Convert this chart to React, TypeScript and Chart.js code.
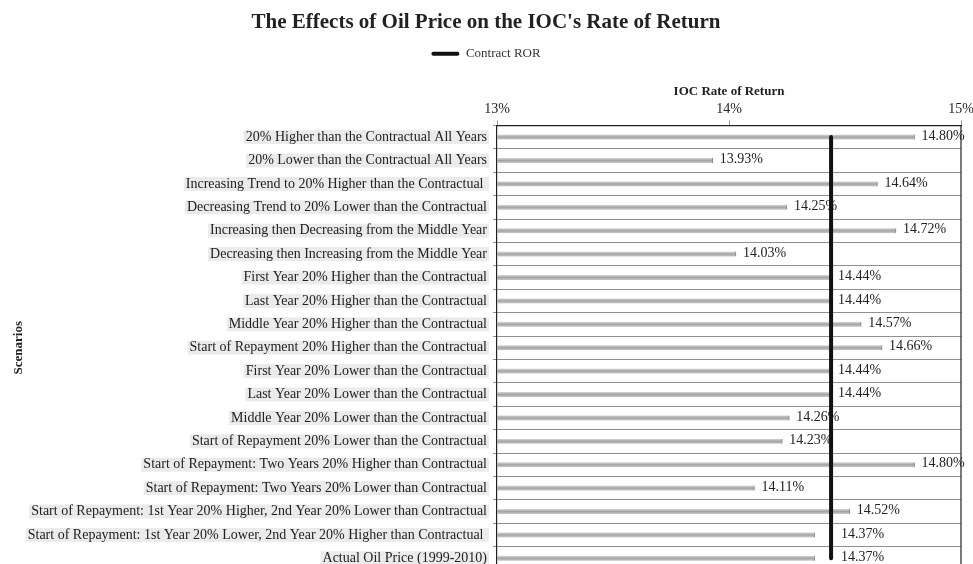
import React, { useEffect, useRef } from 'react';
import { Chart, registerables } from 'chart.js';

Chart.register(...registerables);

const scenarios: string[] = [
  '20% Higher than the Contractual All Years',
  '20% Lower than the Contractual All Years',
  'Increasing Trend to 20% Higher than the Contractual ',
  'Decreasing Trend to 20% Lower than the Contractual',
  'Increasing then Decreasing from the Middle Year',
  'Decreasing then Increasing from the Middle Year',
  'First Year 20% Higher than the Contractual',
  'Last Year 20% Higher than the Contractual',
  'Middle Year 20% Higher than the Contractual',
  'Start of Repayment 20% Higher than the Contractual',
  'First Year 20% Lower than the Contractual',
  'Last Year 20% Lower than the Contractual',
  'Middle Year 20% Lower than the Contractual',
  'Start of Repayment 20% Lower than the Contractual',
  'Start of Repayment: Two Years 20% Higher than Contractual',
  'Start of Repayment: Two Years 20% Lower than Contractual',
  'Start of Repayment: 1st Year 20% Higher, 2nd Year 20% Lower than Contractual',
  'Start of Repayment: 1st Year 20% Lower, 2nd Year 20% Higher than Contractual ',
  'Actual Oil Price (1999-2010)',
];

const iocRateOfReturn: number[] = [
  14.8, 13.93, 14.64, 14.25, 14.72, 14.03, 14.44, 14.44, 14.57, 14.66,
  14.44, 14.44, 14.26, 14.23, 14.8, 14.11, 14.52, 14.37, 14.37,
];

const contractROR = 14.44;

const xTicks: number[] = [13, 14, 15];
const xTickLabels: string[] = ['13%', '14%', '15%'];

const SERIF = "'Liberation Serif', 'Times New Roman', serif";

export default function App() {
  const canvasRef = useRef<HTMLCanvasElement | null>(null);

  useEffect(() => {
    const canvas = canvasRef.current;
    if (!canvas) return;

    const dataLabels = {
      id: 'dataLabels',
      afterDatasetDraw(chart: any, args: any) {
        if (args.index !== 0) return;
        const ctx = chart.ctx;
        const meta = chart.getDatasetMeta(0);
        const lineX = chart.scales.x.getPixelForValue(contractROR);
        ctx.save();
        ctx.font = `14px ${SERIF}`;
        ctx.fillStyle = '#222';
        ctx.textAlign = 'left';
        ctx.textBaseline = 'middle';
        meta.data.forEach((el: any, i: number) => {
          const text = `${iocRateOfReturn[i].toFixed(2)}%`;
          const w = ctx.measureText(text).width;
          let x = el.x + 7;
          const rel = lineX - x;
          if (rel > -3 && rel < w * 0.6) x = lineX + 10;
          ctx.fillText(text, x, el.y - 1);
        });
        ctx.restore();
      },
    };

    const frame = {
      id: 'frame',
      afterDraw(chart: any) {
        const { ctx, chartArea } = chart;
        ctx.save();
        ctx.strokeStyle = '#222';
        ctx.lineWidth = 1.2;
        ctx.beginPath();
        ctx.moveTo(chartArea.right, chartArea.top);
        ctx.lineTo(chartArea.right, chartArea.bottom);
        ctx.stroke();
        ctx.restore();
      },
    };

    const chart = new Chart(canvas, {
      type: 'bar',
      data: {
        labels: scenarios,
        datasets: [
          {
            type: 'bar',
            label: 'IOC Rate of Return',
            data: iocRateOfReturn,
            order: 2,
            barThickness: 5,
            backgroundColor: (c: any) => {
              const ch = c.chart;
              const ys = ch.scales && ch.scales.y;
              if (c.type !== 'data' || !ys) return '#b3b3b3';
              const py = ys.getPixelForValue(c.dataIndex);
              if (!Number.isFinite(py)) return '#b3b3b3';
              const g = ch.ctx.createLinearGradient(0, py - 3, 0, py + 3);
              g.addColorStop(0, '#e2e2e2');
              g.addColorStop(0.5, '#a4a4a4');
              g.addColorStop(1, '#d2d2d2');
              return g;
            },
            borderColor: '#8a8a8a',
            borderWidth: { top: 0, bottom: 0, left: 0, right: 1 },
            borderSkipped: 'start',
          } as any,
          {
            type: 'line',
            label: 'Contract ROR',
            data: scenarios.map(() => contractROR),
            order: 1,
            borderColor: '#111',
            backgroundColor: '#111',
            borderWidth: 4,
            borderCapStyle: 'round',
            pointRadius: 0,
            pointHoverRadius: 0,
          } as any,
        ],
      },
      options: {
        indexAxis: 'y',
        responsive: false,
        animation: false,
        devicePixelRatio: 1,
        layout: { padding: { top: 10, left: 11, right: 12, bottom: 0 } },
        plugins: {
          title: {
            display: true,
            text: "The Effects of Oil Price on the IOC's Rate of Return",
            color: '#222',
            font: { family: SERIF, size: 21, weight: 'bold' },
            padding: { top: 0, bottom: 2 },
          },
          legend: {
            display: true,
            position: 'top',
            labels: {
              color: '#333',
              font: { family: SERIF, size: 13 },
              boxWidth: 28,
              boxHeight: 4,
              padding: 10,
              useBorderRadius: true,
              borderRadius: 2,
              generateLabels: (ch: any) =>
                (Chart.defaults.plugins.legend.labels.generateLabels as any)(ch)
                  .filter((l: any) => l.datasetIndex === 1)
                  .map((l: any) => ({ ...l, lineWidth: 0, fillStyle: '#111', strokeStyle: '#111' })),
            },
          },
          tooltip: { enabled: false },
        },
        scales: {
          x: {
            type: 'linear',
            position: 'top',
            min: 13,
            max: 15,
            afterBuildTicks: (scale: any) => {
              scale.ticks = xTicks.map((v) => ({ value: v }));
            },
            afterFit: (scale: any) => {
              scale.paddingRight = 0;
            },
            ticks: {
              color: '#222',
              font: { family: SERIF, size: 14, lineHeight: 1.1 },
              padding: 3,
              callback: (v: any) => xTickLabels[xTicks.indexOf(Number(v))] ?? '',
            },
            grid: { drawOnChartArea: false, tickLength: 5, color: '#999' },
            border: { color: '#222', width: 1.2 },
            title: {
              display: true,
              text: 'IOC Rate of Return',
              color: '#222',
              font: { family: SERIF, size: 13, weight: 'bold' },
              padding: { top: 13.2, bottom: 0 },
            },
          },
          y: {
            type: 'category',
            afterFit: (scale: any) => {
              scale.width = 486;
            },
            ticks: {
              color: '#222',
              font: { family: SERIF, size: 14, lineHeight: 1 },
              padding: 6,
              autoSkip: false,
              showLabelBackdrop: true,
              backdropColor: '#ebebeb',
              backdropPadding: { top: 0, bottom: 0, left: 2, right: 2 },
            } as any,
            grid: { offset: true, color: '#8f8f8f', tickLength: 4 },
            border: { color: '#222', width: 1.2 },
            title: {
              display: true,
              text: 'Scenarios',
              color: '#222',
              font: { family: SERIF, size: 13, weight: 'bold' },
              padding: 0,
            },
          },
        },
      },
      plugins: [dataLabels, frame],
    } as any);

    return () => chart.destroy();
  }, []);

  return (
    <div
      style={{
        position: 'fixed',
        left: 0,
        top: 0,
        width: 973,
        height: 564,
        overflow: 'hidden',
        background: '#fff',
      }}
    >
      <canvas ref={canvasRef} width={973} height={583} style={{ display: 'block' }} />
    </div>
  );
}
